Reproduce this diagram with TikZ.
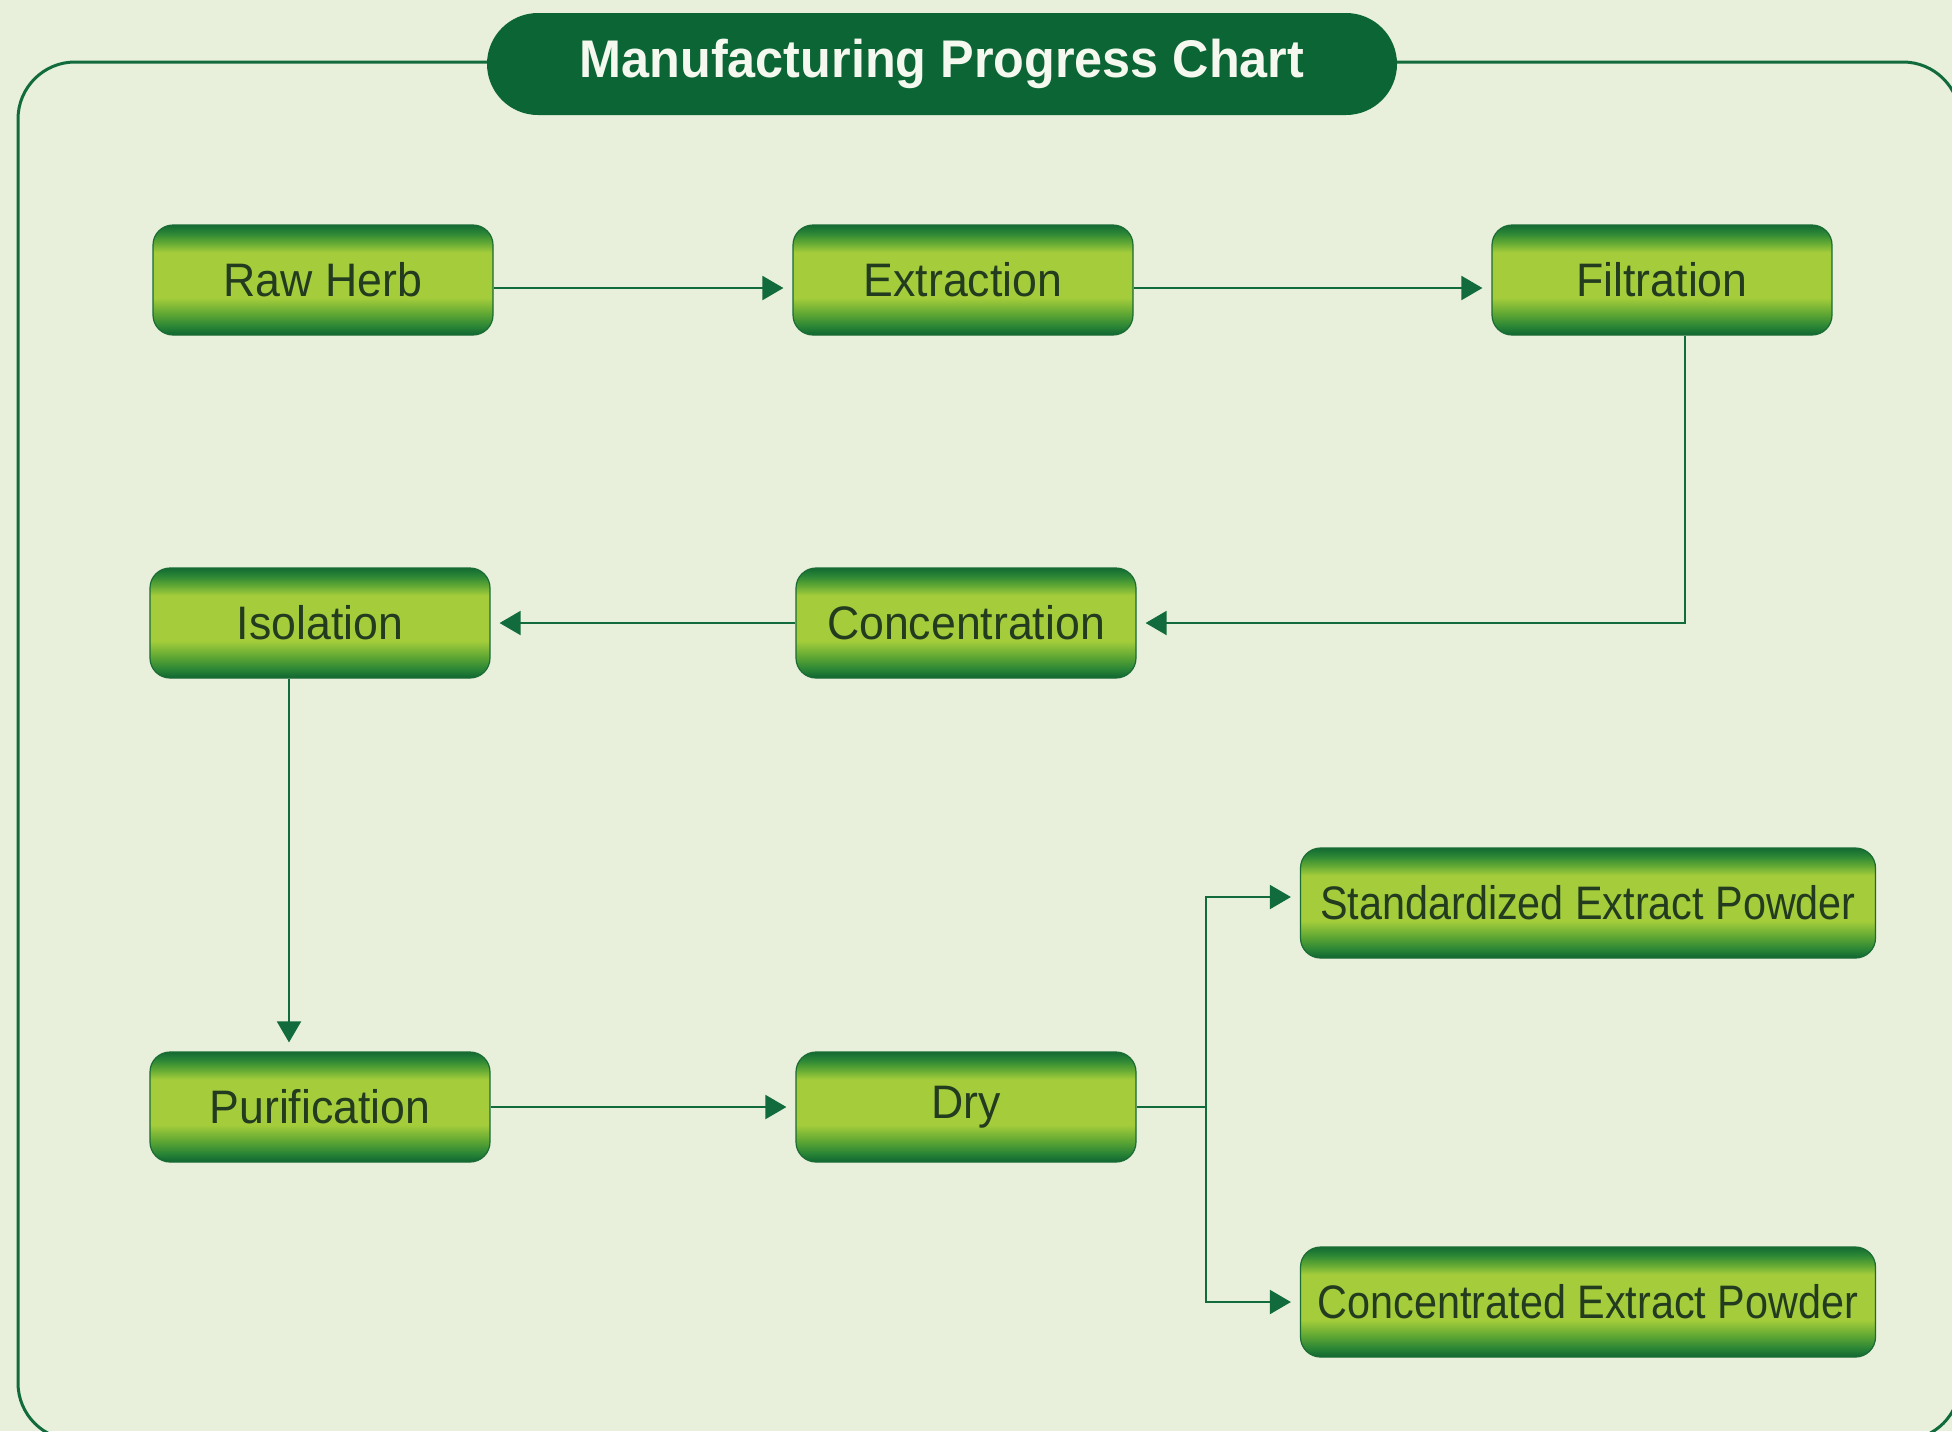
\documentclass[tikz,border=0pt]{standalone}
\usepackage{fontspec}
\setmainfont{Liberation Sans}
\newfontfamily\boxfont{Liberation Sans}[FakeStretch=0.95]
\newfontfamily\widefont{Liberation Sans}[FakeStretch=0.88]
\newfontfamily\titlefont{Liberation Sans}[FakeStretch=0.95]
\usetikzlibrary{arrows.meta}
\definecolor{bgc}{HTML}{E8F0DB}
\definecolor{linec}{HTML}{116B3C}
\definecolor{titlec}{HTML}{0C6535}
\definecolor{titletext}{HTML}{F4F8EE}
\definecolor{boxtext}{HTML}{233B1F}
\definecolor{boxedge}{HTML}{1A6B34}
\definecolor{gtop}{HTML}{136B32}
\definecolor{gdark}{HTML}{0F6632}
\definecolor{gdark2}{HTML}{2A8535}
\definecolor{gmid}{HTML}{62A934}
\definecolor{glime}{HTML}{A5CD3B}
\pgfdeclareverticalshading{boxshade}{100bp}{color(0bp)=(gdark); color(25bp)=(gdark); color(29bp)=(gdark2); color(35bp)=(gmid); color(42bp)=(glime); color(62.5bp)=(glime); color(67bp)=(gmid); color(71.5bp)=(gdark2); color(75bp)=(gtop); color(100bp)=(gtop)}
\tikzset{
  stepbox/.style={shading=boxshade, draw=boxedge, line width=0.6pt, rounded corners=10pt,
    minimum width=170pt, minimum height=55pt, inner sep=0pt, text=boxtext,
    font=\boxfont\fontsize{23.5}{28}\selectfont},
  widebox/.style={stepbox, minimum width=287.5pt, font=\widefont\fontsize{23.5}{28}\selectfont},
  conn/.style={draw=linec, line width=1pt},
  arr/.style={conn, -{Triangle[length=10.5pt,width=12pt]}, shorten >=4.5pt},
  frame/.style={draw=linec, line width=1.5pt, rounded corners=28.5pt},
  titlebox/.style={fill=titlec, rounded corners=25.5pt, minimum width=455pt, minimum height=51pt,
    inner sep=0pt, text=titletext, font=\titlefont\bfseries\fontsize{26.5}{30}\selectfont}
}
\begin{document}
\begin{tikzpicture}[x=0.5pt,y=-0.5pt]
\useasboundingbox (0,0) rectangle (1952,1431);
\fill[bgc] (0,0) rectangle (1952,1431);
\clip (0,0) rectangle (1952,1431);
\draw[frame] (18,62) rectangle (1960,1440);
\node[titlebox] (title) at (942,64) {Manufacturing Progress Chart};

\node[stepbox] (raw) at (323,280) {Raw Herb};
\node[stepbox] (ext) at (963,280) {Extraction};
\node[stepbox] (fil) at (1662,280) {Filtration};
\node[stepbox] (iso) at (320,623) {Isolation};
\node[stepbox] (con) at (966,623) {Concentration};
\node[stepbox] (pur) at (320,1107) {Purification};
\node[stepbox] (dry) at (966,1107) {Dry};
\node[widebox] (std) at (1588,903) {Standardized Extract Powder};
\node[widebox] (cep) at (1588,1302) {Concentrated Extract Powder};
\coordinate (split) at (1206,1107);

\draw[arr] ([yshift=-4pt]raw.east) -- ([yshift=-4pt]ext.west);
\draw[arr] ([yshift=-4pt]ext.east) -- ([yshift=-4pt]fil.west);
\draw[arr] ([xshift=11.5pt]fil.south) |- (con.east);
\draw[arr] (con.west) -- (iso.east);
\draw[arr] ([xshift=-15.5pt]iso.south) -- ([xshift=-15.5pt]pur.north);
\draw[arr] (pur.east) -- (dry.west);
\draw[conn] (dry.east) -- (split);
\draw[arr] (split) |- ([yshift=3pt]std.west);
\draw[arr] (split) |- (cep.west);
\end{tikzpicture}
\end{document}
